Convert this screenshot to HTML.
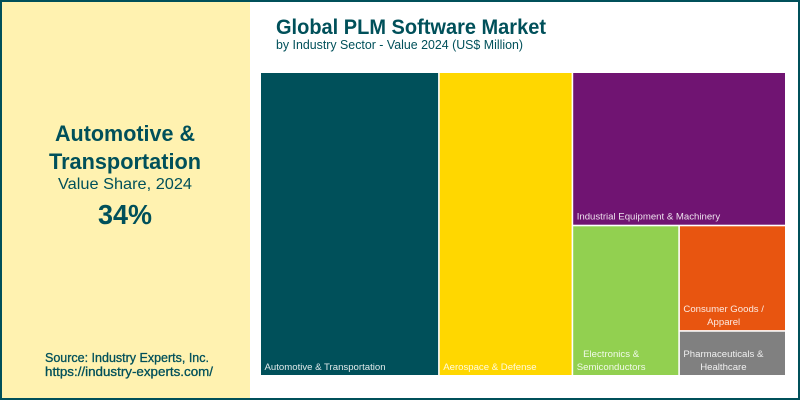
<!DOCTYPE html>
<html lang="en">
<head>
<meta charset="utf-8">
<title>Global PLM Software Market</title>
<style>
html,body{margin:0;padding:0;background:#fff;}
svg{display:block;font-family:"Liberation Sans",sans-serif;}
</style>
</head>
<body>
<svg id="chart" xmlns="http://www.w3.org/2000/svg" width="800" height="400" viewBox="0 0 800 400">
  <rect x="0" y="0" width="800" height="400" fill="#ffffff"/>
  <rect x="2" y="2" width="248" height="396" fill="#FFF2B0"/>
  <rect x="1" y="1" width="798" height="398" fill="none" stroke="#00505A" stroke-width="2"/>
  <text x="276" y="34" font-size="21" font-weight="700" fill="#00505A" textLength="270" lengthAdjust="spacingAndGlyphs">Global PLM Software Market</text>
  <text x="276" y="49" font-size="13" fill="#00505A" textLength="247" lengthAdjust="spacingAndGlyphs">by Industry Sector - Value 2024 (US$ Million)</text>
  <text x="55" y="141" font-size="22" font-weight="700" fill="#00505A" textLength="140" lengthAdjust="spacingAndGlyphs">Automotive &amp;</text>
  <text x="49" y="169" font-size="22" font-weight="700" fill="#00505A" textLength="152" lengthAdjust="spacingAndGlyphs">Transportation</text>
  <text x="58" y="189" font-size="16" fill="#00505A" textLength="134" lengthAdjust="spacingAndGlyphs">Value Share, 2024</text>
  <text x="98" y="224" font-size="28" font-weight="700" fill="#00505A" textLength="54" lengthAdjust="spacingAndGlyphs">34%</text>
  <text x="45" y="362" font-size="13" fill="#00505A" stroke="#00505A" stroke-width="0.3" textLength="164" lengthAdjust="spacingAndGlyphs">Source: Industry Experts, Inc.</text>
  <text x="45" y="376" font-size="13" fill="#00505A" stroke="#00505A" stroke-width="0.3" textLength="168" lengthAdjust="spacingAndGlyphs">https://industry-experts.com/</text>
  <g id="tiles"></g>
</svg>
<script>
var sectors = ["Automotive & Transportation", "Aerospace & Defense", "Industrial Equipment & Machinery", "Electronics & Semiconductors", "Consumer Goods / Apparel", "Pharmaceuticals & Healthcare"];
var values = [34, 25.4, 20.5, 10.05, 7.05, 3];
var colors = ["#00505A", "#FFD700", "#701472", "#92D050", "#E85510", "#808080"];
var labelLines = [["Automotive & Transportation"], ["Aerospace & Defense"], ["Industrial Equipment & Machinery"], ["Electronics &", "Semiconductors"], ["Consumer Goods /", "Apparel"], ["Pharmaceuticals &", "Healthcare"]];

var gap = 1.6;
var plot = { x: 261, y: 73, w: 524 + gap, h: 302 + gap };
var svgNS = "http://www.w3.org/2000/svg";
var group = document.getElementById("tiles");

function sum(from) {
  var s = 0;
  for (var i = from; i < values.length; i++) s += values[i];
  return s;
}
function splitX(box, value, total) {
  var w = box.w * value / total;
  return [{ x: box.x, y: box.y, w: w, h: box.h }, { x: box.x + w, y: box.y, w: box.w - w, h: box.h }];
}
function splitY(box, value, total) {
  var h = box.h * value / total;
  return [{ x: box.x, y: box.y, w: box.w, h: h }, { x: box.x, y: box.y + h, w: box.w, h: box.h - h }];
}
function layout() {
  var a = splitX(plot, values[0], sum(0));
  var b = splitX(a[1], values[1], sum(1));
  var c = splitY(b[1], values[2], sum(2));
  var d = splitX(c[1], values[3], sum(3));
  var e = splitY(d[1], values[4], sum(4));
  return [a[0], b[0], c[0], d[0], e[0], e[1]];
}
function slug(s) {
  return s.toLowerCase().replace(/[^a-z]+/g, "-");
}

var boxes = layout();
boxes.forEach(function (box, i) {
  var rect = document.createElementNS(svgNS, "rect");
  
  
  rect.setAttribute("x", box.x);
  rect.setAttribute("y", box.y);
  rect.setAttribute("width", Math.max(0, box.w - gap));
  rect.setAttribute("height", Math.max(0, box.h - gap));
  rect.setAttribute("fill", colors[i]);
  group.appendChild(rect);

  var lines = labelLines[i];
  var bottom = box.y + box.h - gap;
  var nodes = [];
  var widest = 0;
  lines.forEach(function (line, k) {
    var t = document.createElementNS(svgNS, "text");
    
    
    t.setAttribute("y", bottom - 5 - 13 * (lines.length - 1 - k));
    t.setAttribute("font-size", "9.6");
    t.setAttribute("fill", "#ffffff");
    t.setAttribute("fill-opacity", "0.88");
    t.textContent = line;
    group.appendChild(t);
    var w = t.getComputedTextLength();
    if (w > widest) widest = w;
    nodes.push({ el: t, w: w });
  });
  nodes.forEach(function (n) {
    n.el.setAttribute("x", box.x + 3.5 + (widest - n.w) / 2);
  });
});
</script>
</body>
</html>
